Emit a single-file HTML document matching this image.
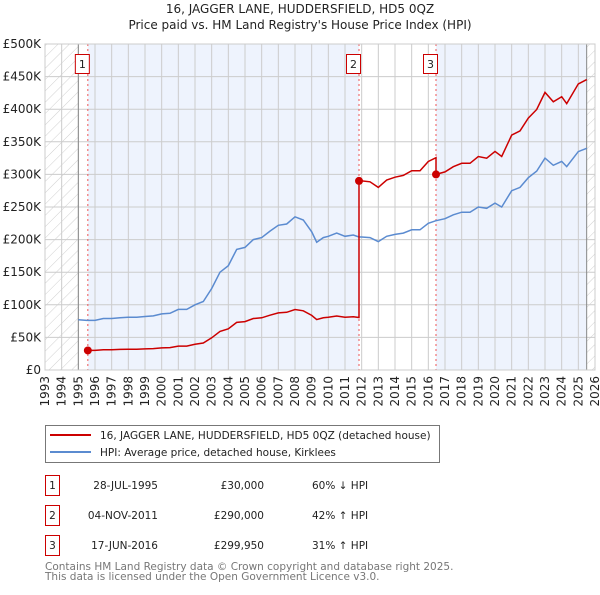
<!DOCTYPE html>
<html><head><meta charset="utf-8"><style>
body{margin:0;background:#fff}
svg{font-family:"DejaVu Sans","Liberation Sans",sans-serif}
</style></head><body>
<svg id="c" width="600" height="590" xmlns="http://www.w3.org/2000/svg">
<defs><pattern id="hatch" width="8" height="8" patternUnits="userSpaceOnUse" patternTransform="rotate(45)"><line x1="0" y1="0" x2="0" y2="8" stroke="#d0d0d0" stroke-width="1"/></pattern></defs>
<text x="300" y="13" text-anchor="middle" font-size="12" fill="#222">16, JAGGER LANE, HUDDERSFIELD, HD5 0QZ</text>
<text x="300" y="29" text-anchor="middle" font-size="12" fill="#222">Price paid vs. HM Land Registry's House Price Index (HPI)</text>
<g id="plot"></g>
<rect x="45.5" y="425.5" width="394" height="37" fill="#fff" stroke="#777"/>
<line x1="50" y1="435" x2="91" y2="435" stroke="#cc0000" stroke-width="2"/>
<text x="100" y="439" font-size="10.5" fill="#222">16, JAGGER LANE, HUDDERSFIELD, HD5 0QZ (detached house)</text>
<line x1="50" y1="452" x2="91" y2="452" stroke="#5b8bd0" stroke-width="2"/>
<text x="100" y="456" font-size="10.5" fill="#222">HPI: Average price, detached house, Kirklees</text>
<g id="table" font-size="10.5" fill="#222"></g>
<text x="45" y="570" font-size="10.5" fill="#777">Contains HM Land Registry data © Crown copyright and database right 2025.</text>
<text x="45" y="580" font-size="10.5" fill="#777">This data is licensed under the Open Government Licence v3.0.</text>
</svg>
<script>
const hpiYears=[1995,1995.5,1996,1996.5,1997,1997.5,1998,1998.5,1999,1999.5,2000,2000.5,2001,2001.5,2002,2002.5,2003,2003.5,2004,2004.5,2005,2005.5,2006,2006.5,2007,2007.5,2008,2008.5,2009,2009.3,2009.7,2010,2010.5,2011,2011.5,2011.84,2012,2012.5,2013,2013.5,2014,2014.5,2015,2015.5,2016,2016.46,2017,2017.5,2018,2018.5,2019,2019.5,2020,2020.4,2021,2021.5,2022,2022.5,2023,2023.5,2024,2024.3,2025,2025.5];
const hpiValues=[77,76,76,79,79,80,81,81,82,83,86,87,93,93,100,105,125,150,160,185,188,200,203,213,222,224,235,230,212,196,203,205,210,205,207,204,204,203,197,205,208,210,215,215,225,229,232,238,242,242,250,248,256,250,275,280,295,305,325,314,320,312,335,340];
const saleYears=[1995.57,2011.84,2016.46];
const salePrices=[30000,290000,299950];
const saleLabels=["1","2","3"];
const saleDates=["28-JUL-1995","04-NOV-2011","17-JUN-2016"];
const salePriceText=["£30,000","£290,000","£299,950"];
const saleHpiText=["60% ↓ HPI","42% ↑ HPI","31% ↑ HPI"];
const yTicks=[0,50,100,150,200,250,300,350,400,450,500];
const yTickLabels=["£0","£50K","£100K","£150K","£200K","£250K","£300K","£350K","£400K","£450K","£500K"];
const xTicks=[1993,1994,1995,1996,1997,1998,1999,2000,2001,2002,2003,2004,2005,2006,2007,2008,2009,2010,2011,2012,2013,2014,2015,2016,2017,2018,2019,2020,2021,2022,2023,2024,2025,2026];

const L=45,R=595,T=44,B=370,x0=1993,x1=2026;
const X=v=>L+(v-x0)/(x1-x0)*(R-L);
const Y=v=>B-v/500*(B-T);
const NS="http://www.w3.org/2000/svg";
const g=document.getElementById('plot');
function mk(tag,attrs,parent){const e=document.createElementNS(NS,tag);for(const k in attrs)e.setAttribute(k,attrs[k]);(parent||g).appendChild(e);return e;}
let e;
e=mk('rect',{x:L,y:T,width:R-L,height:B-T,fill:'#fff'});


e=mk('rect',{x:X(saleYears[0]),y:T,width:X(saleYears[1])-X(saleYears[0]),height:B-T,fill:'#eef3fd'});


e=mk('rect',{x:X(saleYears[2]),y:T,width:X(2025.5)-X(saleYears[2]),height:B-T,fill:'#eef3fd'});


e=mk('rect',{x:L,y:T,width:X(1995)-L,height:B-T,fill:'url(#hatch)'});


e=mk('rect',{x:X(2025.5),y:T,width:R-X(2025.5),height:B-T,fill:'url(#hatch)'});


yTicks.forEach((t,i)=>{
  e=mk('line',{x1:L,x2:R,y1:Y(t),y2:Y(t),stroke:'#cccccc','stroke-width':1});
  
  
  e=mk('text',{x:L-4,y:Y(t)+4,'text-anchor':'end','font-size':12,fill:'#222'});
  e.textContent=yTickLabels[i];
  
  
});
xTicks.forEach(t=>{
  e=mk('line',{x1:X(t),x2:X(t),y1:T,y2:B,stroke:'#cccccc','stroke-width':1});
  
  
  e=mk('text',{x:0,y:0,'text-anchor':'end','font-size':12,fill:'#222',transform:`translate(${X(t)+4},${B+6}) rotate(-90)`});
  e.textContent=t;
  
  
});
e=mk('line',{x1:X(1995),x2:X(1995),y1:T,y2:B,stroke:'#888'});


e=mk('line',{x1:X(2025.5),x2:X(2025.5),y1:T,y2:B,stroke:'#888'});


function hpiAt(yr){for(let i=0;i<hpiYears.length-1;i++){if(yr<=hpiYears[i+1]){const f=(yr-hpiYears[i])/(hpiYears[i+1]-hpiYears[i]);return hpiValues[i]+f*(hpiValues[i+1]-hpiValues[i]);}}return hpiValues[hpiValues.length-1];}
saleYears.forEach((s,i)=>{
  e=mk('line',{x1:X(s),x2:X(s),y1:T,y2:B,stroke:'#ee5555','stroke-dasharray':'2,3','stroke-width':1});
  
  
  e=mk('rect',{x:X(s)-12.5,y:54.5,width:14,height:19,fill:'#fff',stroke:'#cc0000'});
  
  
  e=mk('text',{x:X(s)-5.5,y:68,'text-anchor':'middle','font-size':11,fill:'#222'});
  e.textContent=saleLabels[i];
  
  
});
let d=hpiYears.map((yr,i)=>(i?'L':'M')+X(yr).toFixed(1)+','+Y(hpiValues[i]).toFixed(1)).join('');
e=mk('path',{d:d,fill:'none',stroke:'#5b8bd0','stroke-width':1.5});


let pd='';
saleYears.forEach((s,i)=>{
  const end=i<saleYears.length-1?saleYears[i+1]:2025.5;
  const k=salePrices[i]/1000/hpiAt(s);
  const pts=[s].concat(hpiYears.filter(yr=>yr>s&&yr<end)).concat([end]);
  pts.forEach((yr,j)=>{pd+=((i===0&&j===0)?'M':'L')+X(yr).toFixed(1)+','+Y(hpiAt(yr)*k).toFixed(1);});
});
e=mk('path',{d:pd,fill:'none',stroke:'#cc0000','stroke-width':1.5});


saleYears.forEach((s,i)=>{
  e=mk('circle',{cx:X(s),cy:Y(salePrices[i]/1000),r:4,fill:'#cc0000'});
  
  
});
e=mk('rect',{x:L,y:T,width:R-L,height:B-T,fill:'none',stroke:'#cccccc'});


const tb=document.getElementById('table');
saleYears.forEach((s,i)=>{
  const yy=475+i*30;
  e=mk('rect',{x:45.5,y:yy+0.5,width:14,height:20,fill:'#fff',stroke:'#cc0000'},tb);
  
  
  e=mk('text',{x:52.5,y:yy+14,'text-anchor':'middle'},tb);e.textContent=saleLabels[i];
  
  
  e=mk('text',{x:158,y:yy+14,'text-anchor':'end'},tb);e.textContent=saleDates[i];
  
  
  e=mk('text',{x:264,y:yy+14,'text-anchor':'end'},tb);e.textContent=salePriceText[i];
  
  
  e=mk('text',{x:312,y:yy+14},tb);e.textContent=saleHpiText[i];
  
  
});
</script>
</body></html>
